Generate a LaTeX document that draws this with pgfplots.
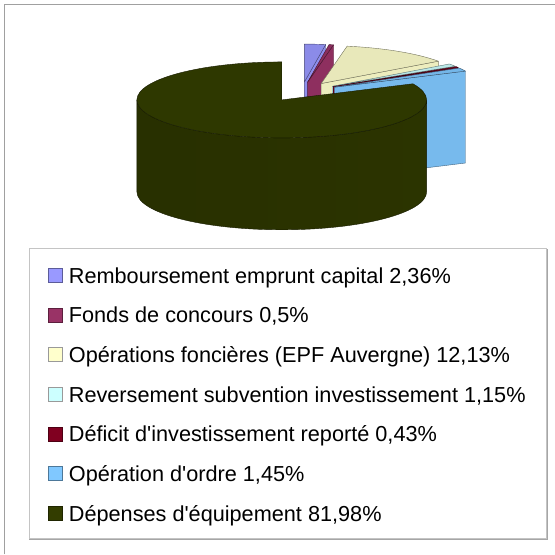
\documentclass[border=0pt]{standalone}
\usepackage{pgfplots}
\pgfplotsset{compat=1.18}
\usepackage{pgfplotstable}
\usepackage{fontspec}
\setmainfont{Liberation Sans}
\definecolor{cPurple}{HTML}{9999FF}
\definecolor{cMaroon}{HTML}{993366}
\definecolor{cCream}{HTML}{FFFFCC}
\definecolor{cCyan}{HTML}{CCFFFF}
\definecolor{cDRed}{HTML}{800020}
\definecolor{cBlue}{HTML}{80C8FF}
\definecolor{cGreen}{HTML}{333D00}
\definecolor{frameGray}{HTML}{A0A0A0}
\definecolor{legGray}{HTML}{C4C4C4}

% shares of the pie (percent), clockwise from 12 o'clock
\pgfplotstableread{
idx pct
0 2.36
1 0.5
2 12.13
3 1.15
4 0.43
5 1.45
6 81.98
}\piedata

\expandafter\def\csname sc0\endcsname{cPurple}
\expandafter\def\csname sc1\endcsname{cMaroon}
\expandafter\def\csname sc2\endcsname{cCream}
\expandafter\def\csname sc3\endcsname{cCyan}
\expandafter\def\csname sc4\endcsname{cDRed}
\expandafter\def\csname sc5\endcsname{cBlue}
\expandafter\def\csname sc6\endcsname{cGreen}

\def\rx{145}\def\ry{38}\def\dep{92}\def\ex{37}

\newcommand\drawslice[1]{%
  \edef\aA{\csname aone#1\endcsname}%
  \edef\aB{\csname atwo#1\endcsname}%
  \edef\col{\csname sc#1\endcsname}%
  \pgfmathsetmacro\midA{(\aA+\aB)/2}%
  \pgfmathsetmacro\Ax{\Cx+\ex*cos(\midA)}%
  \pgfmathsetmacro\Ay{\Cy+\ex*\ry/\rx*sin(\midA)}%
  \pgfmathsetmacro\Px{\Ax+\rx*cos(\aA)}%
  \pgfmathsetmacro\Py{\Ay+\ry*sin(\aA)}%
  \pgfmathsetmacro\Qx{\Ax+\rx*cos(\aB)}%
  \pgfmathsetmacro\Qy{\Ay+\ry*sin(\aB)}%
  \pgfmathsetmacro\cA{cos(\aA)}%
  \pgfmathsetmacro\cB{cos(\aB)}%
  \pgfmathsetmacro\Ayb{\Ay-\dep}%
  \pgfmathsetmacro\Pyb{\Py-\dep}%
  \pgfmathsetmacro\Qyb{\Qy-\dep}%
  \ifdim\cA pt>0.01pt
    \filldraw[fill=\col!93!black, draw=\col!50!black, line width=0.4pt, line join=round]
      (axis cs:\Ax,\Ay) -- (axis cs:\Px,\Py) -- (axis cs:\Px,\Pyb) -- (axis cs:\Ax,\Ayb) -- cycle;
  \fi
  \ifdim\cB pt<-0.01pt
    \filldraw[fill=\col!93!black, draw=\col!50!black, line width=0.4pt, line join=round]
      (axis cs:\Ax,\Ay) -- (axis cs:\Qx,\Qy) -- (axis cs:\Qx,\Qyb) -- (axis cs:\Ax,\Ayb) -- cycle;
  \fi
  \pgfmathsetmacro\sA{max(\aA,-180)}%
  \pgfmathsetmacro\sB{min(\aB,0)}%
  \ifdim\sB pt>\sA pt
    \pgfmathsetmacro\Sx{\Ax+\rx*cos(\sA)}%
    \pgfmathsetmacro\Sy{\Ay+\ry*sin(\sA)}%
    \shade[left color=\col!78!black, middle color=\col!100!white, right color=\col!85!black]
      (axis cs:\Sx,\Sy) arc[start angle=\sA,end angle=\sB,x radius=\rx pt,y radius=\ry pt]
      -- ++(0pt,-\dep pt) arc[start angle=\sB,end angle=\sA,x radius=\rx pt,y radius=\ry pt] -- cycle;
    \draw[draw=\col!45!black, line width=0.4pt]
      (axis cs:\Sx,\Sy) arc[start angle=\sA,end angle=\sB,x radius=\rx pt,y radius=\ry pt]
      -- ++(0pt,-\dep pt) arc[start angle=\sB,end angle=\sA,x radius=\rx pt,y radius=\ry pt] -- cycle;
  \fi
  \filldraw[fill=\col!91!black, draw=\col!45!black, line width=0.4pt, line join=round]
    (axis cs:\Ax,\Ay) -- (axis cs:\Px,\Py)
    arc[start angle=\aA,end angle=\aB,x radius=\rx pt,y radius=\ry pt] -- cycle;
}

\begin{document}
\begin{tikzpicture}
\begin{axis}[
  x=1pt, y=1pt,
  xmin=0, xmax=555, ymin=0, ymax=555,
  hide axis, clip=false,
  legend cell align=left,
  legend image code/.code={\path[#1] (0pt,-4pt) rectangle (14pt,10pt);\path[draw=none,fill=none] (0pt,-19.85pt) -- (18.5pt,19.85pt);},
  legend style={
    at={(axis cs:48,296.5)}, anchor=north west,
    draw=none, fill=none,
    inner xsep=0pt, inner ysep=0pt,
    row sep=0pt,
    font=\fontsize{21.7}{25}\selectfont,
    nodes={inner ysep=0pt, text height=15pt, text depth=5pt},
  },
]
\path (axis cs:0,0) rectangle (axis cs:555,555);

% outer frame (only top and left visible)
\draw[frameGray, line width=1pt] (axis cs:5,0) -- (axis cs:5,550) -- (axis cs:555,550);
% legend frame
\draw[legGray, line width=0.9pt] (axis cs:29,306) rectangle (axis cs:547,16);
\draw[black!35, line width=0.6pt] (axis cs:548,306) -- (axis cs:548,15.5) -- (axis cs:29,15.5);

\pgfplotsextra{%
  \def\cum{0}%
  \pgfplotsforeachungrouped \i in {0,...,6}{%
    \pgfplotstablegetelem{\i}{pct}\of\piedata
    \pgfmathsetmacro\atwo{90-3.6*\cum}%
    \pgfmathsetmacro\cum{\cum+\pgfplotsretval}%
    \pgfmathsetmacro\aone{90-3.6*\cum}%
    \expandafter\xdef\csname aone\i\endcsname{\aone}%
    \expandafter\xdef\csname atwo\i\endcsname{\atwo}%
  }%
  \pgfmathsetmacro\mg{(\csname aone6\endcsname+\csname atwo6\endcsname)/2}%
  \pgfmathsetmacro\Cx{282-\ex*cos(\mg)}%
  \pgfmathsetmacro\Cy{455-\ex*\ry/\rx*sin(\mg)}%
  \drawslice{0}\drawslice{1}\drawslice{2}\drawslice{3}%
  \drawslice{4}\drawslice{5}\drawslice{6}%
}

\addlegendimage{fill=cPurple, draw=cPurple!60!black, line width=0.5pt}
\addlegendentry{Remboursement emprunt capital 2,36\%}
\addlegendimage{fill=cMaroon, draw=cMaroon!60!black, line width=0.5pt}
\addlegendentry{Fonds de concours 0,5\%}
\addlegendimage{fill=cCream, draw=black!40, line width=0.5pt}
\addlegendentry{Opérations foncières (EPF Auvergne) 12,13\%}
\addlegendimage{fill=cCyan, draw=black!40, line width=0.5pt}
\addlegendentry{Reversement subvention investissement 1,15\%}
\addlegendimage{fill=cDRed, draw=cDRed!60!black, line width=0.5pt}
\addlegendentry{Déficit d\textquotesingle investissement reporté 0,43\%}
\addlegendimage{fill=cBlue, draw=cBlue!60!black, line width=0.5pt}
\addlegendentry{Opération d\textquotesingle ordre 1,45\%}
\addlegendimage{fill=cGreen, draw=cGreen!60!black, line width=0.5pt}
\addlegendentry{Dépenses d\textquotesingle équipement 81,98\%}
\end{axis}
\end{tikzpicture}
\end{document}
